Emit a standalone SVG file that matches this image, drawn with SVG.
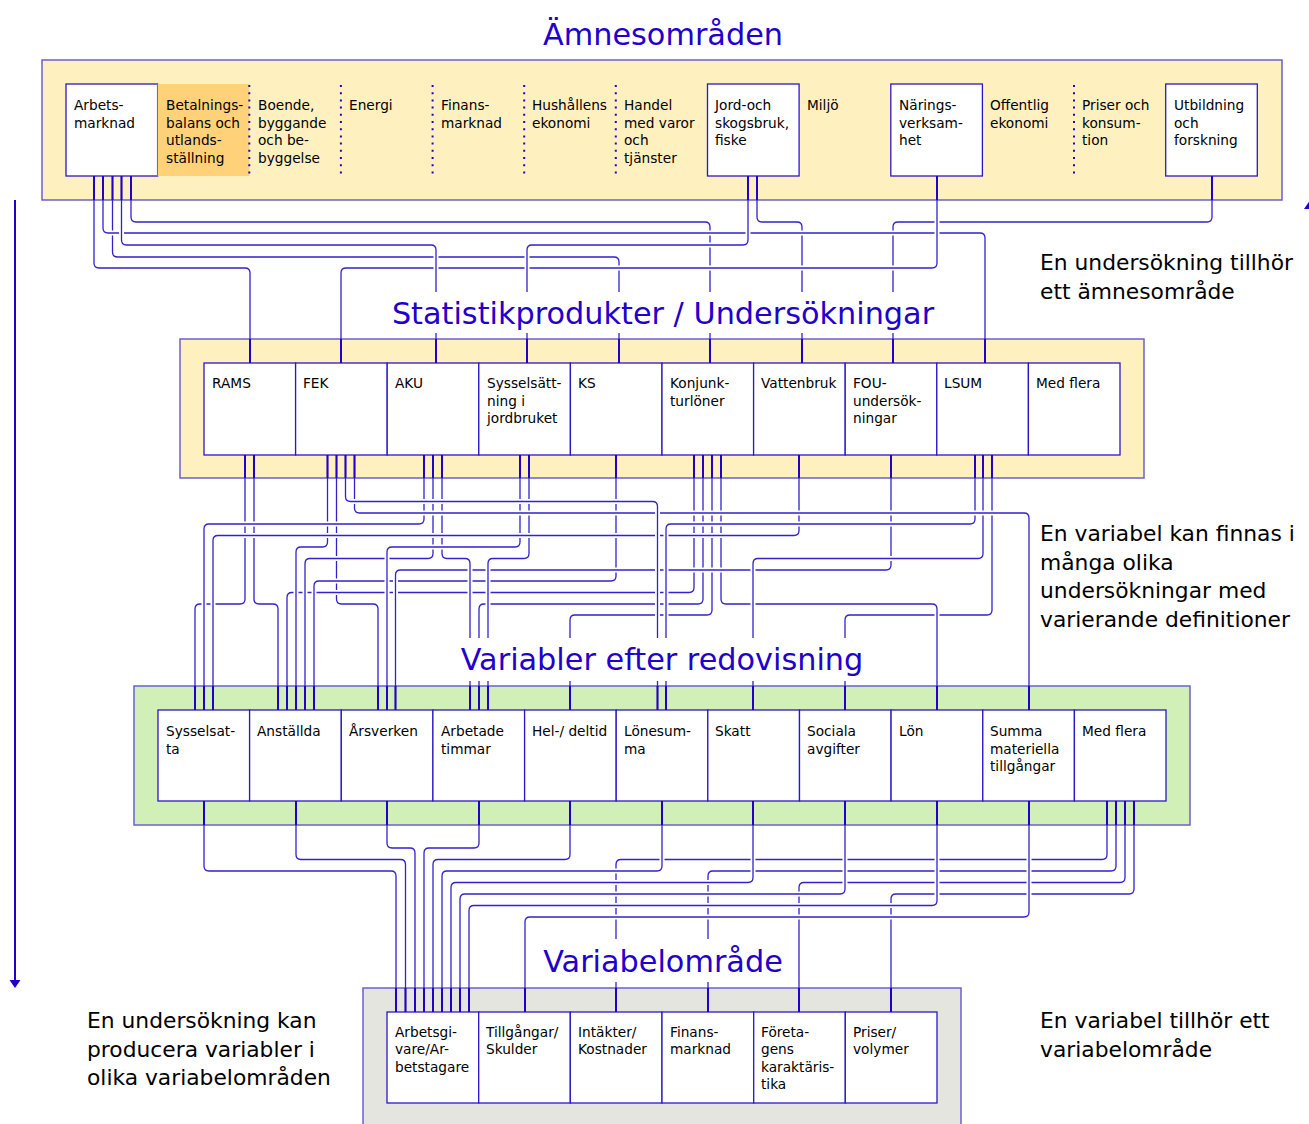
<svg xmlns="http://www.w3.org/2000/svg" xmlns:xlink="http://www.w3.org/1999/xlink" width="1309" height="1124" viewBox="0 0 1309 1124">
  <style>
    .band-y { fill: #fff0c0; stroke: #6b5fd3; stroke-width: 1.5; }
    .band-g { fill: #d0f0b8; stroke: #6b5fd3; stroke-width: 1.5; }
    .band-k { fill: #e5e5e0; stroke: #6b5fd3; stroke-width: 1.5; }
    .cell { fill: #ffffff; stroke: #2a18c8; stroke-width: 1.3; }
    .cell-o { fill: #ffd27a; }
    .sep { stroke: #2200cc; stroke-width: 2; stroke-dasharray: 2 5.2; }
    .lbl { font-family: 'DejaVu Sans', 'Liberation Sans', sans-serif; font-size: 13.7px; fill: #000; }
    .title { font-family: 'DejaVu Sans', 'Liberation Sans', sans-serif; font-size: 30.3px; fill: #2200cc; text-anchor: middle; }
    .note { font-family: 'DejaVu Sans', 'Liberation Sans', sans-serif; font-size: 21.8px; fill: #000; }
    .title-bg { fill: #ffffff; }
    .halo { fill: none; stroke: #ffffff; stroke-width: 5; clip-path: url(#gapzone); }
    .ln { fill: none; stroke: #3322cc; stroke-width: 1.3; }
    .stub { fill: none; stroke: #2200cc; stroke-width: 2; }
    .axis { stroke: #2200cc; stroke-width: 2; }
  </style>
  <defs>
    <!-- white space between the bands: the only place where connector halos show -->
    <clipPath id="gapzone" clipPathUnits="userSpaceOnUse">
      <rect x="0" y="201" width="1309" height="137"/>
      <rect x="0" y="479" width="1309" height="206"/>
      <rect x="0" y="826" width="1309" height="161"/>
    </clipPath>
    <!-- connector routes: down, across, down, with rounded corners -->
    <path id="t1" d="M131 176 V217 Q131 222 136 222 H705 Q710 222 710 227 V363"/>
    <path id="t2" d="M757 176 V217 Q757 222 762 222 H797 Q802 222 802 227 V363"/>
    <path id="t3" d="M1212 176 V217 Q1212 222 1207 222 H898 Q893 222 893 227 V363"/>
    <path id="t4" d="M112.5 176 V252 Q112.5 257 117.5 257 H614 Q619 257 619 262 V363"/>
    <path id="t5" d="M103 176 V228 Q103 233 108 233 H980 Q985 233 985 238 V363"/>
    <path id="t6" d="M937 176 V263 Q937 268 932 268 H346 Q341 268 341 273 V363"/>
    <path id="t7" d="M748 176 V240 Q748 245 743 245 H532 Q527 245 527 250 V363"/>
    <path id="t8" d="M121.5 176 V240 Q121.5 245 126.5 245 H431 Q436 245 436 250 V363"/>
    <path id="t9" d="M94 176 V263 Q94 268 99 268 H245 Q250 268 250 273 V363"/>

    <path id="m15" d="M712 455 V610 Q712 615 707 615 H575 Q570 615 570 620 V710"/>
    <path id="m21" d="M992 455 V610 Q992 615 987 615 H850 Q845 615 845 620 V710"/>
    <path id="m1" d="M245 455 V599 Q245 604 240 604 H200 Q195 604 195 609 V710"/>
    <path id="m2" d="M254 455 V599 Q254 604 259 604 H273 Q278 604 278 609 V710"/>
    <path id="m4" d="M336.5 455 V599 Q336.5 604 341.5 604 H373 Q378 604 378 609 V710"/>
    <path id="m14" d="M703 455 V599 Q703 604 698 604 H484 Q479 604 479 609 V710"/>
    <path id="m16" d="M721 455 V599 Q721 604 726 604 H932 Q937 604 937 609 V710"/>
    <path id="m13" d="M694 455 V587.5 Q694 592.5 689 592.5 H292 Q287 592.5 287 597.5 V710"/>
    <path id="m12" d="M616 455 V576 Q616 581 611 581 H319 Q314 581 314 586 V710"/>
    <path id="m18" d="M891 455 V565 Q891 570 886 570 H400.5 Q395.5 570 395.5 575 V710"/>
    <path id="m8" d="M433 455 V553.5 Q433 558.5 428 558.5 H310 Q305 558.5 305 563.5 V710"/>
    <path id="m9" d="M442 455 V553.5 Q442 558.5 447 558.5 H465 Q470 558.5 470 563.5 V710"/>
    <path id="m11" d="M529 455 V553.5 Q529 558.5 524 558.5 H493 Q488 558.5 488 563.5 V710"/>
    <path id="m20" d="M983 455 V553.5 Q983 558.5 978 558.5 H758 Q753 558.5 753 563.5 V710"/>
    <path id="m3" d="M327.5 455 V542 Q327.5 547 322.5 547 H301 Q296 547 296 552 V710"/>
    <path id="m10" d="M520 455 V542 Q520 547 515 547 H392 Q387 547 387 552 V710"/>
    <path id="m17" d="M799 455 V530.5 Q799 535.5 794 535.5 H218 Q213 535.5 213 540.5 V710"/>
    <path id="m7" d="M424 455 V519 Q424 524 419 524 H209 Q204 524 204 529 V710"/>
    <path id="m19" d="M975 455 V519 Q975 524 970 524 H671 Q666 524 666 529 V710"/>
    <path id="m6" d="M354.5 455 V508 Q354.5 513 359.5 513 H1024 Q1029 513 1029 518 V710"/>
    <path id="m5" d="M345.5 455 V496.5 Q345.5 501.5 350.5 501.5 H652.5 Q657.5 501.5 657.5 506.5 V710"/>

    <path id="b1" d="M387 801 V843 Q387 848 392 848 H410 Q415 848 415 853 V1012"/>
    <path id="b2" d="M479 801 V843 Q479 848 474 848 H429 Q424 848 424 853 V1012"/>
    <path id="b3" d="M296 801 V854.5 Q296 859.5 301 859.5 H400.5 Q405.5 859.5 405.5 864.5 V1012"/>
    <path id="b4" d="M570 801 V854.5 Q570 859.5 565 859.5 H438 Q433 859.5 433 864.5 V1012"/>
    <path id="b5" d="M1107 801 V854.5 Q1107 859.5 1102 859.5 H621 Q616 859.5 616 864.5 V1012"/>
    <path id="b6" d="M204 801 V866 Q204 871 209 871 H391 Q396 871 396 876 V1012"/>
    <path id="b7" d="M662 801 V866 Q662 871 657 871 H447 Q442 871 442 876 V1012"/>
    <path id="b8" d="M1116 801 V866 Q1116 871 1111 871 H713 Q708 871 708 876 V1012"/>
    <path id="b9" d="M753 801 V877.5 Q753 882.5 748 882.5 H456 Q451 882.5 451 887.5 V1012"/>
    <path id="b10" d="M1125 801 V877.5 Q1125 882.5 1120 882.5 H804 Q799 882.5 799 887.5 V1012"/>
    <path id="b11" d="M845 801 V889 Q845 894 840 894 H465 Q460 894 460 899 V1012"/>
    <path id="b12" d="M1134 801 V889 Q1134 894 1129 894 H896 Q891 894 891 899 V1012"/>
    <path id="b13" d="M937 801 V900.5 Q937 905.5 932 905.5 H474 Q469 905.5 469 910.5 V1012"/>
    <path id="b14" d="M1029 801 V912 Q1029 917 1024 917 H530 Q525 917 525 922 V1012"/>
  </defs>

  <rect width="1309" height="1124" fill="#ffffff"/>

  <!-- level bands -->
  <g id="bands">
    <rect class="band-y" x="42" y="60" width="1240" height="140"/>
    <rect class="band-y" x="180" y="339" width="964" height="139"/>
    <rect class="band-g" x="134" y="686" width="1056" height="139"/>
    <rect class="band-k" x="363" y="988" width="598" height="140"/>
  </g>

  <!-- level 1: subject areas -->
  <g id="amne-arbetsmarknad">
    <rect class="cell" x="66" y="84" width="91.6" height="92"/>
    <text class="lbl" x="74" y="110"><tspan x="74">Arbets-</tspan><tspan x="74" dy="17.5">marknad</tspan></text>
  </g>
  <g id="amne-betalningsbalans">
    <rect class="cell-o" x="157.6" y="84" width="91.7" height="92"/>
    <text class="lbl" x="166" y="110"><tspan x="166">Betalnings-</tspan><tspan x="166" dy="17.5">balans och</tspan><tspan x="166" dy="17.5">utlands-</tspan><tspan x="166" dy="17.5">ställning</tspan></text>
  </g>
  <g id="amne-boende">
    <text class="lbl" x="258" y="110"><tspan x="258">Boende,</tspan><tspan x="258" dy="17.5">byggande</tspan><tspan x="258" dy="17.5">och be-</tspan><tspan x="258" dy="17.5">byggelse</tspan></text>
  </g>
  <g id="amne-energi">
    <text class="lbl" x="349" y="110">Energi</text>
  </g>
  <g id="amne-finansmarknad">
    <text class="lbl" x="441" y="110"><tspan x="441">Finans-</tspan><tspan x="441" dy="17.5">marknad</tspan></text>
  </g>
  <g id="amne-hushallens-ekonomi">
    <text class="lbl" x="532" y="110"><tspan x="532">Hushållens</tspan><tspan x="532" dy="17.5">ekonomi</tspan></text>
  </g>
  <g id="amne-handel">
    <text class="lbl" x="624" y="110"><tspan x="624">Handel</tspan><tspan x="624" dy="17.5">med varor</tspan><tspan x="624" dy="17.5">och</tspan><tspan x="624" dy="17.5">tjänster</tspan></text>
  </g>
  <g id="amne-jord-skog-fiske">
    <rect class="cell" x="707.5" y="84" width="91.6" height="92"/>
    <text class="lbl" x="715" y="110"><tspan x="715">Jord-och</tspan><tspan x="715" dy="17.5">skogsbruk,</tspan><tspan x="715" dy="17.5">fiske</tspan></text>
  </g>
  <g id="amne-miljo">
    <text class="lbl" x="807" y="110">Miljö</text>
  </g>
  <g id="amne-naringsverksamhet">
    <rect class="cell" x="890.8" y="84" width="91.6" height="92"/>
    <text class="lbl" x="899" y="110"><tspan x="899">Närings-</tspan><tspan x="899" dy="17.5">verksam-</tspan><tspan x="899" dy="17.5">het</tspan></text>
  </g>
  <g id="amne-offentlig-ekonomi">
    <text class="lbl" x="990" y="110"><tspan x="990">Offentlig</tspan><tspan x="990" dy="17.5">ekonomi</tspan></text>
  </g>
  <g id="amne-priser">
    <text class="lbl" x="1082" y="110"><tspan x="1082">Priser och</tspan><tspan x="1082" dy="17.5">konsum-</tspan><tspan x="1082" dy="17.5">tion</tspan></text>
  </g>
  <g id="amne-utbildning">
    <rect class="cell" x="1165.7" y="84" width="91.6" height="92"/>
    <text class="lbl" x="1174" y="110"><tspan x="1174">Utbildning</tspan><tspan x="1174" dy="17.5">och</tspan><tspan x="1174" dy="17.5">forskning</tspan></text>
  </g>
  <!-- dotted dividers between the unboxed subject areas -->
  <g id="amne-dividers">
    <line class="sep" x1="249.3" y1="85" x2="249.3" y2="176"/>
    <line class="sep" x1="340.9" y1="85" x2="340.9" y2="176"/>
    <line class="sep" x1="432.6" y1="85" x2="432.6" y2="176"/>
    <line class="sep" x1="524.2" y1="85" x2="524.2" y2="176"/>
    <line class="sep" x1="615.8" y1="85" x2="615.8" y2="176"/>
    <line class="sep" x1="1074" y1="85" x2="1074" y2="176"/>
  </g>

  <!-- level 2: statistical products / surveys -->
  <g id="prod-rams">
    <rect class="cell" x="204" y="363" width="91.6" height="92"/>
    <text class="lbl" x="212" y="388">RAMS</text>
  </g>
  <g id="prod-fek">
    <rect class="cell" x="295.6" y="363" width="91.6" height="92"/>
    <text class="lbl" x="303" y="388">FEK</text>
  </g>
  <g id="prod-aku">
    <rect class="cell" x="387.2" y="363" width="91.6" height="92"/>
    <text class="lbl" x="395" y="388">AKU</text>
  </g>
  <g id="prod-sysselsattning-jordbruket">
    <rect class="cell" x="478.8" y="363" width="91.6" height="92"/>
    <text class="lbl" x="487" y="388"><tspan x="487">Sysselsätt-</tspan><tspan x="487" dy="17.5">ning i</tspan><tspan x="487" dy="17.5">jordbruket</tspan></text>
  </g>
  <g id="prod-ks">
    <rect class="cell" x="570.4" y="363" width="91.6" height="92"/>
    <text class="lbl" x="578" y="388">KS</text>
  </g>
  <g id="prod-konjunkturloner">
    <rect class="cell" x="662" y="363" width="91.6" height="92"/>
    <text class="lbl" x="670" y="388"><tspan x="670">Konjunk-</tspan><tspan x="670" dy="17.5">turlöner</tspan></text>
  </g>
  <g id="prod-vattenbruk">
    <rect class="cell" x="753.6" y="363" width="91.6" height="92"/>
    <text class="lbl" x="761" y="388">Vattenbruk</text>
  </g>
  <g id="prod-fou">
    <rect class="cell" x="845.2" y="363" width="91.6" height="92"/>
    <text class="lbl" x="853" y="388"><tspan x="853">FOU-</tspan><tspan x="853" dy="17.5">undersök-</tspan><tspan x="853" dy="17.5">ningar</tspan></text>
  </g>
  <g id="prod-lsum">
    <rect class="cell" x="936.8" y="363" width="91.6" height="92"/>
    <text class="lbl" x="944" y="388">LSUM</text>
  </g>
  <g id="prod-med-flera">
    <rect class="cell" x="1028.4" y="363" width="91.6" height="92"/>
    <text class="lbl" x="1036" y="388">Med flera</text>
  </g>

  <!-- level 3: published variables -->
  <g id="var-sysselsatta">
    <rect class="cell" x="158" y="710" width="91.6" height="91"/>
    <text class="lbl" x="166" y="736"><tspan x="166">Sysselsat-</tspan><tspan x="166" dy="17.5">ta</tspan></text>
  </g>
  <g id="var-anstallda">
    <rect class="cell" x="249.6" y="710" width="91.7" height="91"/>
    <text class="lbl" x="257" y="736">Anställda</text>
  </g>
  <g id="var-arsverken">
    <rect class="cell" x="341.3" y="710" width="91.6" height="91"/>
    <text class="lbl" x="349" y="736">Årsverken</text>
  </g>
  <g id="var-arbetade-timmar">
    <rect class="cell" x="432.9" y="710" width="91.7" height="91"/>
    <text class="lbl" x="441" y="736"><tspan x="441">Arbetade</tspan><tspan x="441" dy="17.5">timmar</tspan></text>
  </g>
  <g id="var-hel-deltid">
    <rect class="cell" x="524.6" y="710" width="91.6" height="91"/>
    <text class="lbl" x="532" y="736">Hel-/ deltid</text>
  </g>
  <g id="var-lonesumma">
    <rect class="cell" x="616.2" y="710" width="91.6" height="91"/>
    <text class="lbl" x="624" y="736"><tspan x="624">Lönesum-</tspan><tspan x="624" dy="17.5">ma</tspan></text>
  </g>
  <g id="var-skatt">
    <rect class="cell" x="707.8" y="710" width="91.7" height="91"/>
    <text class="lbl" x="715" y="736">Skatt</text>
  </g>
  <g id="var-sociala-avgifter">
    <rect class="cell" x="799.5" y="710" width="91.6" height="91"/>
    <text class="lbl" x="807" y="736"><tspan x="807">Sociala</tspan><tspan x="807" dy="17.5">avgifter</tspan></text>
  </g>
  <g id="var-lon">
    <rect class="cell" x="891.1" y="710" width="91.7" height="91"/>
    <text class="lbl" x="899" y="736">Lön</text>
  </g>
  <g id="var-summa-materiella">
    <rect class="cell" x="982.8" y="710" width="91.6" height="91"/>
    <text class="lbl" x="990" y="736"><tspan x="990">Summa</tspan><tspan x="990" dy="17.5">materiella</tspan><tspan x="990" dy="17.5">tillgångar</tspan></text>
  </g>
  <g id="var-med-flera">
    <rect class="cell" x="1074.4" y="710" width="91.6" height="91"/>
    <text class="lbl" x="1082" y="736">Med flera</text>
  </g>

  <!-- level 4: variable areas -->
  <g id="omr-arbetsgivare">
    <rect class="cell" x="387" y="1012" width="91.7" height="91"/>
    <text class="lbl" x="395" y="1036.5"><tspan x="395">Arbetsgi-</tspan><tspan x="395" dy="17.5">vare/Ar-</tspan><tspan x="395" dy="17.5">betstagare</tspan></text>
  </g>
  <g id="omr-tillgangar">
    <rect class="cell" x="478.7" y="1012" width="91.6" height="91"/>
    <text class="lbl" x="486" y="1036.5"><tspan x="486">Tillgångar/</tspan><tspan x="486" dy="17.5">Skulder</tspan></text>
  </g>
  <g id="omr-intakter">
    <rect class="cell" x="570.3" y="1012" width="91.7" height="91"/>
    <text class="lbl" x="578" y="1036.5"><tspan x="578">Intäkter/</tspan><tspan x="578" dy="17.5">Kostnader</tspan></text>
  </g>
  <g id="omr-finansmarknad">
    <rect class="cell" x="662" y="1012" width="91.7" height="91"/>
    <text class="lbl" x="670" y="1036.5"><tspan x="670">Finans-</tspan><tspan x="670" dy="17.5">marknad</tspan></text>
  </g>
  <g id="omr-foretagens">
    <rect class="cell" x="753.7" y="1012" width="91.6" height="91"/>
    <text class="lbl" x="761" y="1036.5"><tspan x="761">Företa-</tspan><tspan x="761" dy="17.5">gens</tspan><tspan x="761" dy="17.5">karaktäris-</tspan><tspan x="761" dy="17.5">tika</tspan></text>
  </g>
  <g id="omr-priser">
    <rect class="cell" x="845.3" y="1012" width="91.7" height="91"/>
    <text class="lbl" x="853" y="1036.5"><tspan x="853">Priser/</tspan><tspan x="853" dy="17.5">volymer</tspan></text>
  </g>

  <!-- connectors: each route gets a white halo, so later routes bridge earlier ones -->
  <g id="connectors">
    <use xlink:href="#t1" class="halo"/><use xlink:href="#t1" class="ln"/>
    <use xlink:href="#t2" class="halo"/><use xlink:href="#t2" class="ln"/>
    <use xlink:href="#t3" class="halo"/><use xlink:href="#t3" class="ln"/>
    <use xlink:href="#t4" class="halo"/><use xlink:href="#t4" class="ln"/>
    <use xlink:href="#t5" class="halo"/><use xlink:href="#t5" class="ln"/>
    <use xlink:href="#t6" class="halo"/><use xlink:href="#t6" class="ln"/>
    <use xlink:href="#t7" class="halo"/><use xlink:href="#t7" class="ln"/>
    <use xlink:href="#t8" class="halo"/><use xlink:href="#t8" class="ln"/>
    <use xlink:href="#t9" class="halo"/><use xlink:href="#t9" class="ln"/>

    <use xlink:href="#m15" class="halo"/><use xlink:href="#m15" class="ln"/>
    <use xlink:href="#m21" class="halo"/><use xlink:href="#m21" class="ln"/>
    <use xlink:href="#m1" class="halo"/><use xlink:href="#m1" class="ln"/>
    <use xlink:href="#m2" class="halo"/><use xlink:href="#m2" class="ln"/>
    <use xlink:href="#m4" class="halo"/><use xlink:href="#m4" class="ln"/>
    <use xlink:href="#m14" class="halo"/><use xlink:href="#m14" class="ln"/>
    <use xlink:href="#m16" class="halo"/><use xlink:href="#m16" class="ln"/>
    <use xlink:href="#m13" class="halo"/><use xlink:href="#m13" class="ln"/>
    <use xlink:href="#m12" class="halo"/><use xlink:href="#m12" class="ln"/>
    <use xlink:href="#m18" class="halo"/><use xlink:href="#m18" class="ln"/>
    <use xlink:href="#m8" class="halo"/><use xlink:href="#m8" class="ln"/>
    <use xlink:href="#m9" class="halo"/><use xlink:href="#m9" class="ln"/>
    <use xlink:href="#m11" class="halo"/><use xlink:href="#m11" class="ln"/>
    <use xlink:href="#m20" class="halo"/><use xlink:href="#m20" class="ln"/>
    <use xlink:href="#m3" class="halo"/><use xlink:href="#m3" class="ln"/>
    <use xlink:href="#m10" class="halo"/><use xlink:href="#m10" class="ln"/>
    <use xlink:href="#m17" class="halo"/><use xlink:href="#m17" class="ln"/>
    <use xlink:href="#m7" class="halo"/><use xlink:href="#m7" class="ln"/>
    <use xlink:href="#m19" class="halo"/><use xlink:href="#m19" class="ln"/>
    <use xlink:href="#m6" class="halo"/><use xlink:href="#m6" class="ln"/>
    <use xlink:href="#m5" class="halo"/><use xlink:href="#m5" class="ln"/>

    <use xlink:href="#b1" class="halo"/><use xlink:href="#b1" class="ln"/>
    <use xlink:href="#b2" class="halo"/><use xlink:href="#b2" class="ln"/>
    <use xlink:href="#b3" class="halo"/><use xlink:href="#b3" class="ln"/>
    <use xlink:href="#b4" class="halo"/><use xlink:href="#b4" class="ln"/>
    <use xlink:href="#b5" class="halo"/><use xlink:href="#b5" class="ln"/>
    <use xlink:href="#b6" class="halo"/><use xlink:href="#b6" class="ln"/>
    <use xlink:href="#b7" class="halo"/><use xlink:href="#b7" class="ln"/>
    <use xlink:href="#b8" class="halo"/><use xlink:href="#b8" class="ln"/>
    <use xlink:href="#b9" class="halo"/><use xlink:href="#b9" class="ln"/>
    <use xlink:href="#b10" class="halo"/><use xlink:href="#b10" class="ln"/>
    <use xlink:href="#b11" class="halo"/><use xlink:href="#b11" class="ln"/>
    <use xlink:href="#b12" class="halo"/><use xlink:href="#b12" class="ln"/>
    <use xlink:href="#b13" class="halo"/><use xlink:href="#b13" class="ln"/>
    <use xlink:href="#b14" class="halo"/><use xlink:href="#b14" class="ln"/>

    <!-- heavier stubs where the routes cross the coloured bands -->
    <path class="stub" d="M94 176 V200 M103 176 V200 M112.5 176 V200 M121.5 176 V200 M131 176 V200 M748 176 V200 M757 176 V200 M937 176 V200 M1212 176 V200"/>
    <path class="stub" d="M250 339 V363 M341 339 V363 M436 339 V363 M527 339 V363 M619 339 V363 M710 339 V363 M802 339 V363 M893 339 V363 M985 339 V363"/>
    <path class="stub" d="M245 455 V478 M254 455 V478 M327.5 455 V478 M336.5 455 V478 M345.5 455 V478 M354.5 455 V478 M424 455 V478 M433 455 V478 M442 455 V478 M520 455 V478 M529 455 V478 M616 455 V478 M694 455 V478 M703 455 V478 M712 455 V478 M721 455 V478 M799 455 V478 M891 455 V478 M975 455 V478 M983 455 V478 M992 455 V478"/>
    <path class="stub" d="M195 686 V710 M204 686 V710 M213 686 V710 M278 686 V710 M287 686 V710 M296 686 V710 M305 686 V710 M314 686 V710 M378 686 V710 M387 686 V710 M395.5 686 V710 M470 686 V710 M479 686 V710 M488 686 V710 M570 686 V710 M657.5 686 V710 M666 686 V710 M753 686 V710 M845 686 V710 M937 686 V710 M1029 686 V710"/>
    <path class="stub" d="M204 801 V825 M296 801 V825 M387 801 V825 M479 801 V825 M570 801 V825 M662 801 V825 M753 801 V825 M845 801 V825 M937 801 V825 M1029 801 V825 M1107 801 V825 M1116 801 V825 M1125 801 V825 M1134 801 V825"/>
    <path class="stub" d="M396 988 V1012 M405.5 988 V1012 M415 988 V1012 M424 988 V1012 M433 988 V1012 M442 988 V1012 M451 988 V1012 M460 988 V1012 M469 988 V1012 M525 988 V1012 M616 988 V1012 M708 988 V1012 M799 988 V1012 M891 988 V1012"/>
  </g>

  <!-- level titles on white plates that interrupt the routes -->
  <g id="titles">
    <text class="title" x="663" y="45">Ämnesområden</text>
    <rect class="title-bg" x="385" y="292" width="556" height="41"/>
    <text class="title" x="663" y="324">Statistikprodukter / Undersökningar</text>
    <rect class="title-bg" x="458" y="638" width="409" height="43"/>
    <text class="title" x="662" y="670">Variabler efter redovisning</text>
    <rect class="title-bg" x="538" y="939" width="251" height="43"/>
    <text class="title" x="663" y="972">Variabelområde</text>
  </g>

  <!-- explanatory notes -->
  <g id="notes">
    <text class="note" x="1040" y="270"><tspan x="1040">En undersökning tillhör</tspan><tspan x="1040" dy="28.7">ett ämnesområde</tspan></text>
    <text class="note" x="1040" y="541"><tspan x="1040">En variabel kan finnas i</tspan><tspan x="1040" dy="28.7">många olika</tspan><tspan x="1040" dy="28.7">undersökningar med</tspan><tspan x="1040" dy="28.7">varierande definitioner</tspan></text>
    <text class="note" x="1040" y="1028"><tspan x="1040">En variabel tillhör ett</tspan><tspan x="1040" dy="28.7">variabelområde</tspan></text>
    <text class="note" x="87" y="1028"><tspan x="87">En undersökning kan</tspan><tspan x="87" dy="28.7">producera variabler i</tspan><tspan x="87" dy="28.7">olika variabelområden</tspan></text>
  </g>

  <!-- direction arrows along the page edges -->
  <g id="axis-arrows">
    <line class="axis" x1="15" y1="200" x2="15" y2="981"/>
    <polygon points="9.5,980 20.5,980 15,988" fill="#2200cc"/>
    <polygon points="1311,199 1304,209 1318,209" fill="#2200cc"/>
  </g>
</svg>
